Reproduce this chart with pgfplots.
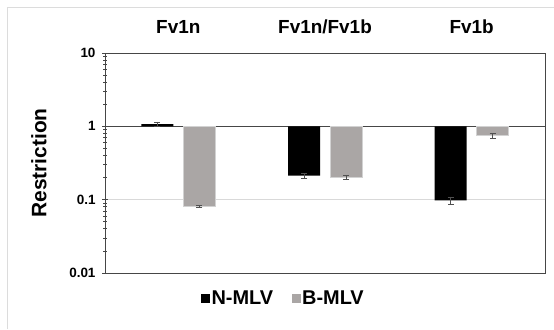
\documentclass[border=0pt]{standalone}
\usepackage{pgfplots}
\pgfplotsset{compat=1.18}
\usepackage{fontspec}
\setmainfont{Liberation Sans}
\definecolor{barblack}{RGB}{0,0,0}
\definecolor{bargray}{RGB}{170,166,165}
\definecolor{axisgray}{RGB}{70,70,70}
\definecolor{gridgray}{RGB}{217,217,217}
\definecolor{errgray}{RGB}{80,80,80}
\definecolor{framegray}{RGB}{220,220,220}
\begin{document}
\begin{tikzpicture}[x=1bp,y=1bp]
\useasboundingbox (0,0) rectangle (554,329);
\draw[framegray, line width=1bp] (7,0) -- (7,321) -- (554,321);
\begin{axis}[
  at={(105bp,56bp)}, anchor=south west,
  scale only axis, width=440bp, height=220bp,
  ymode=log, log origin y=0,
  ymin=0.01, ymax=10,
  xmin=-0.5, xmax=2.5,
  ybar=10bp, bar width=32bp,
  /pgf/number format/assume math mode=true,
  xtick=data, xticklabels={Fv1n, Fv1n/Fv1b, Fv1b},
  xticklabel pos=upper,
  xtick style={draw=none},
  xticklabel style={anchor=base, yshift=17bp, font=\bfseries\fontsize{19}{19}\selectfont},
  ytick={0.01,0.1,1,10},
  yticklabels={0.01,0.1,1,10},
  yticklabel style={font=\bfseries\fontsize{13.5}{13.5}\selectfont, xshift=-3bp},
  ytick pos=left,
  tick align=center,
  major tick length=6bp, minor tick length=4bp,
  every tick/.style={axisgray, line width=0.8bp},
  ymajorgrids, major grid style={gridgray, line width=1bp},
  extra y ticks={1}, extra y tick labels={},
  extra y tick style={grid=major, major grid style={axisgray, line width=1.2bp}, major tick length=0pt},
  axis line style={axisgray, line width=1bp},
  ylabel={Restriction},
  ylabel style={at={(axis description cs:-0.15,0.5)}, anchor=center, font=\bfseries\fontsize{21}{21}\selectfont},
  legend style={at={(0.211,-0.114)}, anchor=west, draw=none, fill=none,
    legend columns=2, font=\bfseries\fontsize{20}{20}\selectfont,
    /tikz/every even column/.append style={column sep=17bp},
    nodes={inner sep=1.5bp}},
  legend image code/.code={\fill[#1, draw=none] (0bp,-4.5bp) rectangle (9bp,4.5bp);},
  error bars/y dir=both, error bars/y explicit,
  error bars/error bar style={errgray, line width=0.7bp},
  error bars/error mark options={rotate=90, errgray, mark size=3bp, line width=0.7bp},
]
\addplot[fill=barblack, draw=none] coordinates {
  (0,1.07) +- (0,0.08)
  (1,0.212) +- (0,0.018)
  (2,0.098) +- (0,0.011)
};
\addplot[fill=bargray, draw=gray!35, line width=0.6bp] coordinates {
  (0,0.081) +- (0,0.002)
  (1,0.204) +- (0,0.012)
  (2,0.746) +- (0,0.05)
};
\legend{N-MLV, B-MLV}
\end{axis}
\end{tikzpicture}
\end{document}
